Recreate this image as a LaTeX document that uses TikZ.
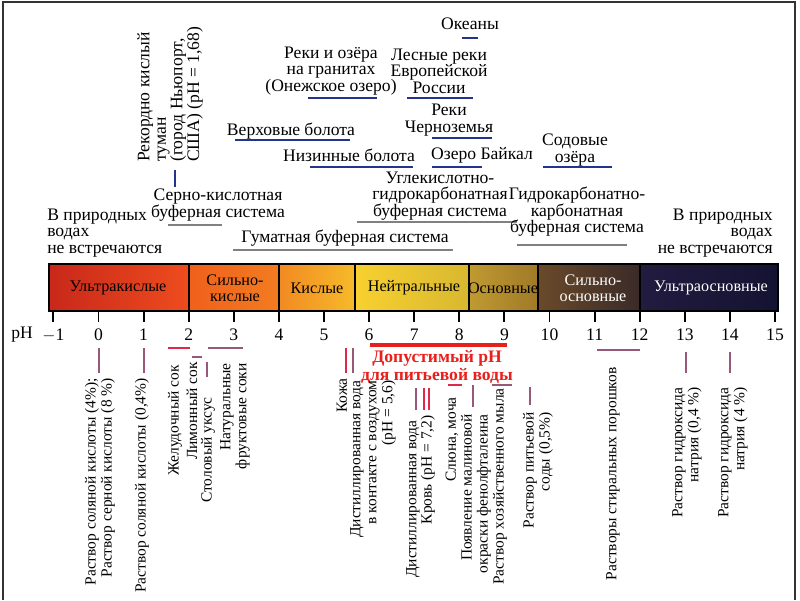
\documentclass[tikz,border=0pt]{standalone}
\usepackage{fontspec}
\setmainfont{Liberation Serif}
\newcommand{\sz}{\fontsize{12.5}{11.8}\selectfont}
\newcommand{\vsz}{\fontsize{11}{11.4}\selectfont}
\definecolor{phblue}{HTML}{24348C}
\definecolor{phred}{HTML}{E02848}
\definecolor{phmauve}{HTML}{98587C}
\definecolor{okred}{HTML}{E8201C}
\tikzset{
  lbl/.style={font=\sz, align=center, inner sep=0pt},
  vlbl/.style={font=\vsz, rotate=90, anchor=east, align=right, inner sep=0pt},
  zone/.style={font=\fontsize{11.5}{11}\selectfont, align=center, inner sep=0pt},
  bluebar/.style={draw=phblue, line width=1.6pt},
  graybar/.style={draw=gray, line width=0.9pt},
  mbar/.style={draw=phmauve, line width=2pt},
  rbar/.style={draw=phred, line width=2pt},
}

\begin{document}
\begin{tikzpicture}[x=0.025cm, y=-0.025cm]
  \useasboundingbox (0,0) rectangle (800,600);
  \draw[line width=0.9pt, black!80] (3,600) -- (3,2) -- (795,2) -- (795,600);

  % waters above the scale
  \node[lbl] (okeany) at (470,24) {Океаны};
  \draw[bluebar] (462,38) -- (478,38);
  \node[lbl] (granit) at (331,71) {Реки и озёра\\на гранитах\\(Онежское озеро)};
  \draw[bluebar] (308,98) -- (377,98);
  \node[lbl] (lesnye) at (439,71) {Лесные реки\\Европейской\\России};
  \draw[bluebar] (407,98) -- (473,98);
  \node[lbl] (verkh) at (291,131) {Верховые болота};
  \draw[bluebar] (235,140) -- (350,140);
  \node[lbl] (chernozem) at (449,120) {Реки\\Черноземья};
  \draw[bluebar] (432,138) -- (492,138);
  \node[lbl] (nizin) at (349,155) {Низинные болота};
  \draw[bluebar] (310,167) -- (413,167);
  \node[lbl] (baikal) at (482,155) {Озеро Байкал};
  \draw[bluebar] (432,167) -- (482,167);
  \node[lbl] (soda) at (575,150) {Содовые\\озёра};
  \draw[bluebar] (543,167) -- (612,167);
  \node[lbl, rotate=90, anchor=west, align=left] (tuman) at (170,162)
    {Рекордно кислый\\туман\\(город Ньюпорт,\\США) (pH = 1,68)};
  \draw[bluebar] (175,170) -- (175,187);

  % buffer systems
  \node[lbl] (serno) at (218,205) {Серно-кислотная\\буферная система};
  \draw[graybar] (168,225) -- (222,225);
  \node[lbl] (gumat) at (345,238) {Гуматная буферная система};
  \draw[graybar] (233,250) -- (453,250);
  \node[lbl] (uglekisl) at (440,196) {Углекислотно-\\гидрокарбонатная\\буферная система};
  \draw[graybar] (357,222) -- (517,222);
  \node[lbl] (gidrokarb) at (577,212) {Гидрокарбонатно-\\карбонатная\\буферная система};
  \draw[graybar] (517,245) -- (627,245);
  \node[lbl, anchor=west, align=left] (netL) at (47,233) {В природных\\водах\\не встречаются};
  \node[lbl, anchor=east, align=right] (netR) at (773,233) {В природных\\водах\\не встречаются};

  % colour scale
  \shade[left color={rgb,255:red,200;green,40;blue,26}, right color={rgb,255:red,238;green,76;blue,30}] (49,264) rectangle (189,311);
  \shade[left color={rgb,255:red,240;green,96;blue,28}, right color={rgb,255:red,242;green,124;blue,32}] (189,264) rectangle (279,311);
  \shade[left color={rgb,255:red,242;green,138;blue,34}, right color={rgb,255:red,246;green,186;blue,42}] (279,264) rectangle (355,311);
  \shade[left color={rgb,255:red,248;green,208;blue,48}, middle color={rgb,255:red,250;green,228;blue,64}, right color={rgb,255:red,216;green,184;blue,48}] (355,264) rectangle (469,311);
  \shade[left color={rgb,255:red,192;green,154;blue,48}, right color={rgb,255:red,160;green,122;blue,40}] (469,264) rectangle (538,311);
  \shade[left color={rgb,255:red,106;green,74;blue,42}, right color={rgb,255:red,58;green,42;blue,40}] (538,264) rectangle (640,311);
  \shade[left color={rgb,255:red,34;green,28;blue,64}, right color={rgb,255:red,20;green,18;blue,50}] (640,264) rectangle (778,311);
  \draw[line width=1pt] (49,264) rectangle (778,311);
  \foreach \x in {189, 279, 355, 469, 538, 640} { \draw[line width=0.8pt] (\x,264) -- (\x,311); }

  \node[zone] (ultrak) at (118,288) {Ультракислые};
  \node[zone] (silnok) at (235,288) {Сильно-\\кислые};
  \node[zone] (kisl) at (317,288) {Кислые};
  \node[zone] (neitr) at (414,288) {Нейтральные};
  \node[zone] (osn) at (503,288) {Основные};
  \node[zone, white] (silnoo) at (593,288) {Сильно-\\основные};
  \node[zone, white] (ultrao) at (711,288) {Ультраосновные};

  % pH axis
  \foreach \p in {-1,...,15} {
    \draw[line width=1.3pt] ({98.5+45.1*\p},311) -- ({98.5+45.1*\p},322);
    \node[font=\sz, inner sep=0pt] at ({98.5+45.1*\p},335) {\ifnum\p<0 $-$1\else\p\fi};
  }
  \node[font=\sz, inner sep=0pt] (ph) at (22,335) {pH};

  % solutions below the scale
  \draw[mbar] (99,348) -- (99,373);
  \draw[mbar] (144,348) -- (144,373);
  \draw[rbar] (168,348) -- (190,348);
  \draw[mbar] (192,357) -- (202,357);
  \draw[mbar] (207,362) -- (207,377);
  \draw[mbar] (208,348) -- (243,348);
  \draw[rbar] (346,348) -- (346,373);
  \draw[mbar] (353,348) -- (353,373);
  \draw[draw=okred, line width=2.2pt] (370,345) -- (507,345);
  \draw[mbar] (416,388) -- (416,410);
  \draw[rbar] (424,388) -- (424,410);
  \draw[rbar] (429,388) -- (429,410);
  \draw[rbar] (448,385) -- (462,385);
  \draw[mbar] (473,385) -- (473,407);
  \draw[mbar] (492,385) -- (512,385);
  \draw[mbar] (530,387) -- (530,405);
  \draw[mbar] (597,350) -- (640,350);
  \draw[mbar] (686,352) -- (686,373);
  \draw[mbar] (730,352) -- (730,373);

  \node[font=\bfseries\fontsize{12.5}{10.5}\selectfont, text=okred, align=center, inner sep=0pt] (dopust) at (437,367) {Допустимый pH\\для питьевой воды};

  \node[vlbl] (hcl4) at (100,378) {Раствор соляной кислоты (4\%);\\Раствор серной кислоты (8 \%)};
  \node[vlbl] (hcl04) at (142,378) {Раствор соляной кислоты (0,4\%)};
  \node[vlbl] (zhel) at (175,365) {Желудочный сок};
  \node[vlbl] (limon) at (192,362) {Лимонный сок};
  \node[vlbl] (uksus) at (208,397) {Столовый уксус};
  \node[vlbl] (soki) at (235,363) {Натуральные\\фруктовые соки};
  \node[vlbl] (kozha) at (342,378) {Кожа};
  \node[vlbl] (distvozd) at (373,380) {Дистиллированная вода\\в контакте с воздухом\\(pH = 5,6)};
  \node[vlbl] (distvoda) at (413,420) {Дистиллированная вода};
  \node[vlbl] (krov) at (428,415) {Кровь (pH = 7,2)};
  \node[vlbl] (slyuna) at (452,397) {Слюна, моча};
  \node[vlbl] (fenol) at (476,414) {Появление малиновой\\окраски фенолфталеина};
  \node[vlbl] (mylo) at (500,388) {Раствор хозяйственного мыла};
  \node[vlbl] (sodarast) at (538,412) {Раствор питьевой\\соды (0,5\%)};
  \node[vlbl] (poroshki) at (613,367) {Растворы стиральных порошков};
  \node[vlbl] (naoh04) at (687,387) {Раствор гидроксида\\натрия (0,4 \%)};
  \node[vlbl] (naoh4) at (733,387) {Раствор гидроксида\\натрия (4 \%)};
\end{tikzpicture}
\end{document}
